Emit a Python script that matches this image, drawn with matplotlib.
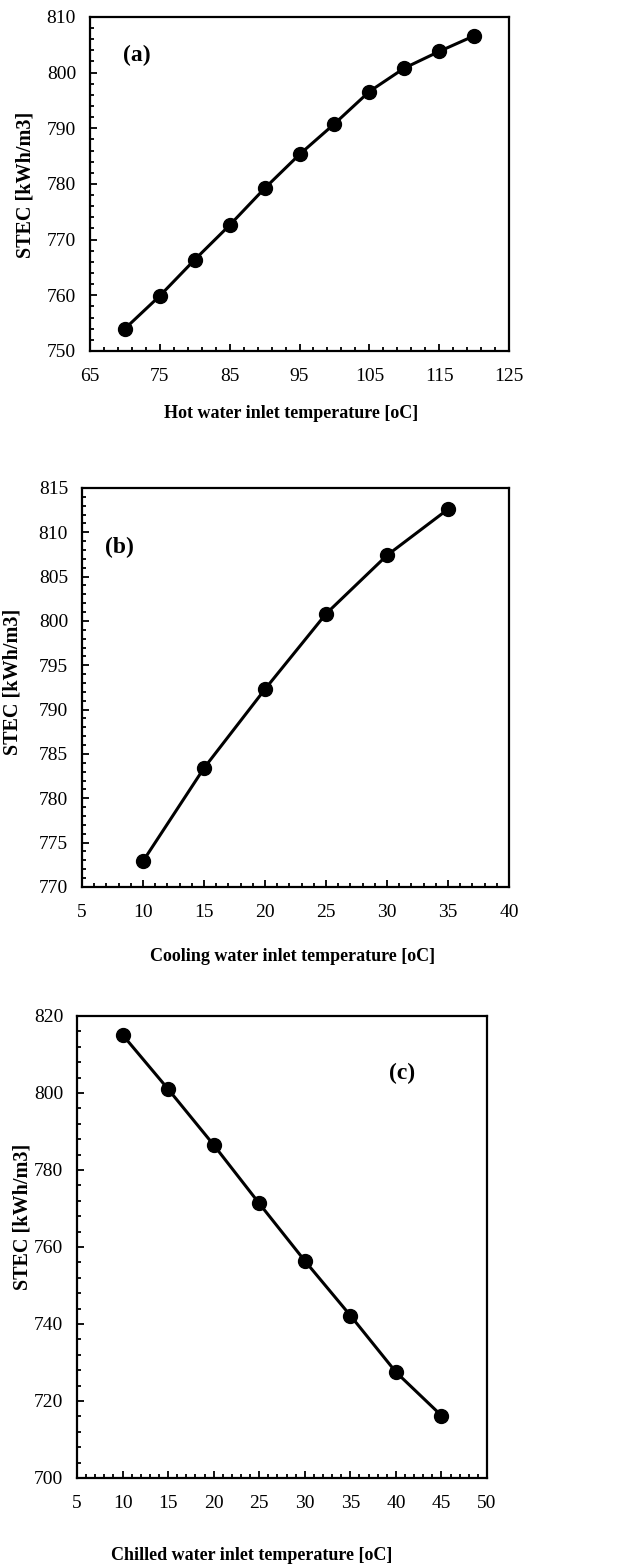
import matplotlib
matplotlib.use("Agg")
import matplotlib.pyplot as plt
from matplotlib.ticker import FixedLocator
import numpy as np

plt.rcParams["font.family"] = ["Liberation Serif", "DejaVu Serif"]

# (a) hot water inlet temperature
hot_t = [70, 75, 80, 85, 90, 95, 100, 105, 110, 115, 120]
hot_stec = [754.0, 759.9, 766.4, 772.6, 779.2, 785.3, 790.8, 796.6, 800.8, 803.8, 806.6]

# (b) cooling water inlet temperature
cool_t = [10, 15, 20, 25, 30, 35]
cool_stec = [772.9, 783.4, 792.3, 800.8, 807.4, 812.6]

# (c) chilled water inlet temperature
chill_t = [10, 15, 20, 25, 30, 35, 40, 45]
chill_stec = [815.1, 801.0, 786.5, 771.3, 756.4, 742.2, 727.5, 716.2]

panels = [
    dict(x=hot_t, y=hot_stec, rect=[0.1417, 0.7756, 0.660, 0.2136],
         xlim=(65, 125), xmaj=10, xmin=2, ylim=(750, 810), ymaj=10, ymin=2,
         xlabel="Hot water inlet temperature [oC]", tag="(a)", tagpos=(71.7, 803.0),
         xl=(0.48, -0.186), yl=(-0.155, 0.497)),
    dict(x=cool_t, y=cool_stec, rect=[0.1291, 0.4329, 0.6724, 0.2551],
         xlim=(5, 40), xmaj=5, xmin=1, ylim=(770, 815), ymaj=5, ymin=1,
         xlabel="Cooling water inlet temperature [oC]", tag="(b)", tagpos=(8.1, 808.3),
         xl=(0.493, -0.175), yl=(-0.162, 0.514)),
    dict(x=chill_t, y=chill_stec, rect=[0.1213, 0.055, 0.6457, 0.2954],
         xlim=(5, 50), xmaj=5, xmin=1, ylim=(700, 820), ymaj=20, ymin=4,
         xlabel="Chilled water inlet temperature [oC]", tag="(c)", tagpos=(40.7, 805.2),
         xl=(0.427, -0.167), yl=(-0.134, 0.565)),
]

fig = plt.figure(figsize=(6.35, 15.64), dpi=100)

for p in panels:
    ax = fig.add_axes(p["rect"])
    ax.plot(p["x"], p["y"], color="black", lw=2.2, marker="o", ms=10, zorder=3)
    ax.set_xlim(*p["xlim"])
    ax.set_ylim(*p["ylim"])
    x0, x1 = p["xlim"]
    y0, y1 = p["ylim"]
    ax.xaxis.set_major_locator(FixedLocator(np.arange(x0, x1 + 0.01, p["xmaj"])))
    ax.xaxis.set_minor_locator(FixedLocator(np.arange(x0, x1 + 0.01, p["xmin"])))
    ax.yaxis.set_major_locator(FixedLocator(np.arange(y0, y1 + 0.01, p["ymaj"])))
    ax.yaxis.set_minor_locator(FixedLocator(np.arange(y0, y1 + 0.01, p["ymin"])))
    ax.tick_params(which="both", direction="in", top=False, right=False,
                   labelsize=14, width=1.3, color="black")
    ax.tick_params(axis="x", pad=12)
    ax.tick_params(axis="y", pad=10)
    ax.tick_params(which="major", length=5)
    ax.tick_params(which="minor", length=3)
    for s in ax.spines.values():
        s.set_linewidth(1.6)
    ax.text(p["xl"][0], p["xl"][1], p["xlabel"], transform=ax.transAxes,
            ha="center", va="center", fontsize=13, fontweight="bold")
    ax.text(p["yl"][0], p["yl"][1], "STEC [kWh/m3]", transform=ax.transAxes,
            ha="center", va="center", rotation=90, fontsize=14.5, fontweight="bold")
    ax.text(p["tagpos"][0], p["tagpos"][1], p["tag"], ha="center", va="center",
            fontsize=17, fontweight="bold")

fig.savefig("out.png", dpi=100)
